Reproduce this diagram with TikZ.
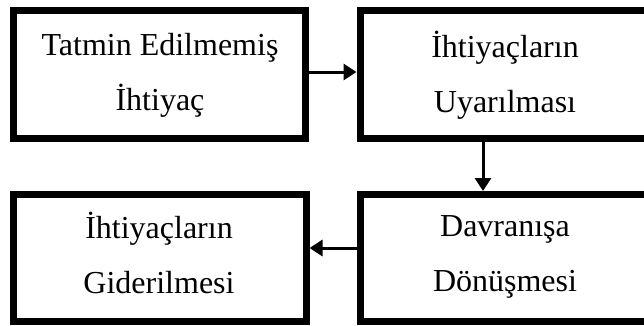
\documentclass[tikz,border=0pt]{standalone}
\usepackage{fontspec}
\setmainfont{Liberation Serif}
\usetikzlibrary{arrows.meta}
\tikzset{
  box/.style={draw=black, line width=7pt, rectangle, inner sep=0pt},
  txt/.style={inner sep=0pt, align=center, font=\fontsize{32}{55}\selectfont},
  arr/.style={draw=black, line width=3pt, -{Triangle[length=13pt,width=16pt]}}
}
\newcommand{\tl}[2]{\rule{0pt}{22pt}#1\\#2\rule[-7pt]{0pt}{7pt}}
\begin{document}
\begin{tikzpicture}[x=1pt,y=-1pt]
\useasboundingbox (0,0) rectangle (644,325);
\fill[white] (0,0) rectangle (644,325);
\clip (0,0) rectangle (644,325);
\node[box, minimum width=292.5pt, minimum height=128pt] (b1) at (159.25,74.5) {};
\node[box, minimum width=320pt, minimum height=128pt] (b2) at (520,74.5) {};
\node[box, minimum width=293pt, minimum height=127pt] (b3) at (159.5,258) {};
\node[box, minimum width=320pt, minimum height=127pt] (b4) at (520,258) {};
\node[txt] (t1) at (160,75) {\tl{Tatmin Edilmemiş}{İhtiyaç}};
\node[txt] (t2) at (505,75) {\tl{İhtiyaçların}{Uyarılması}};
\node[txt] (t3) at (159,256) {\tl{İhtiyaçların}{Giderilmesi}};
\node[txt] (t4) at (505,256) {\tl{Davranışa}{Dönüşmesi}};
\draw[arr] ([yshift=2.5pt]b1.east) -- ([yshift=2.5pt]b2.west);
\draw[arr] ([xshift=-37pt]b2.south) -- ([xshift=-37pt]b4.north);
\draw[arr] ([yshift=10pt]b4.west) -- ([yshift=10pt]b3.east);
\end{tikzpicture}
\end{document}
